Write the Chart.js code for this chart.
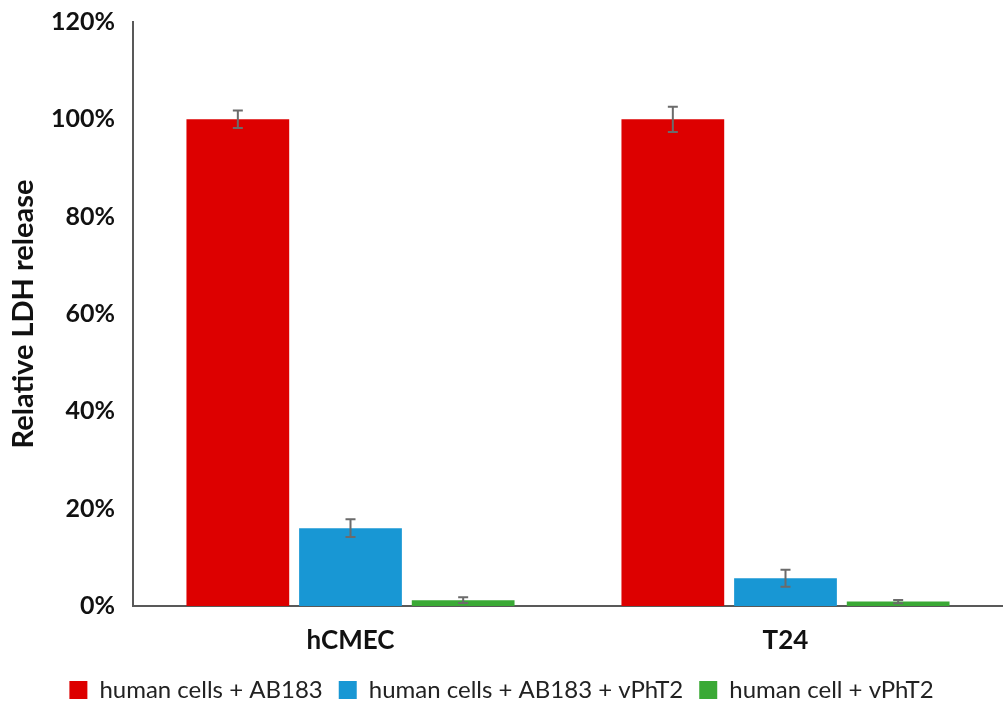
<!DOCTYPE html>
<html lang="en">
<head>
<meta charset="UTF-8">
<title>Relative LDH release</title>
<style>
  html, body { margin: 0; padding: 0; background: #fff; }
  #wrap { width: 1003px; height: 712px; }
</style>
</head>
<body>
<div id="wrap"><canvas id="ldhChart" width="1003" height="712"></canvas></div>

<script src="https://cdn.jsdelivr.net/npm/chart.js"></script>
<script>
  // values (percent)
  const categories = ['hCMEC', 'T24'];
  const seriesNames = ['human cells + AB183', 'human cells + AB183 + vPhT2', 'human cell + vPhT2'];
  const ab183 = [100, 100];
  const ab183Phage = [16.0, 5.7];
  const phageOnly = [1.2, 0.9];
  const ab183Err = [1.8, 2.6];
  const ab183PhageErr = [1.8, 1.75];
  const phageOnlyErr = [0.6, 0.35];
  const yTicks = [0, 20, 40, 60, 80, 100, 120];

  const colors = ['#dd0000', '#1897d4', '#3aa935'];

  // simple error bar drawing on top of the bars
  const errorBars = {
    id: 'errorBars',
    afterDatasetsDraw(chart) {
      const c = chart.ctx;
      const y = chart.scales.y;
      c.save();
      c.strokeStyle = '#6b6b6b';
      c.lineWidth = 2;
      chart.data.datasets.forEach((ds, i) => {
        const meta = chart.getDatasetMeta(i);
        meta.data.forEach((bar, j) => {
          const v = ds.data[j], e = ds.errors[j];
          const top = y.getPixelForValue(v + e);
          const bot = y.getPixelForValue(v - e);
          c.beginPath();
          c.moveTo(bar.x, top); c.lineTo(bar.x, bot);
          c.moveTo(bar.x - 5, top); c.lineTo(bar.x + 5, top);
          c.moveTo(bar.x - 5, bot); c.lineTo(bar.x + 5, bot);
          c.stroke();
        });
      });
      c.restore();
    }
  };

  const ctx = document.getElementById('ldhChart').getContext('2d');
  const chart = new Chart(ctx, {
    type: 'bar',
    data: {
      labels: categories,
      datasets: [
        { label: seriesNames[0], data: ab183, errors: ab183Err, backgroundColor: colors[0] },
        { label: seriesNames[1], data: ab183Phage, errors: ab183PhageErr, backgroundColor: colors[1] },
        { label: seriesNames[2], data: phageOnly, errors: phageOnlyErr, backgroundColor: colors[2] }
      ]
    },
    options: {
      responsive: false,
      animation: false,
      layout: { padding: { top: 22, right: 0, bottom: 0, left: 0 } },
      datasets: {
        bar: { categoryPercentage: 0.777, barPercentage: 0.912 }
      },
      plugins: {
        legend: {
          position: 'bottom',
          labels: {
            boxWidth: 18,
            boxHeight: 18,
            padding: 16,
            color: '#222',
            font: { family: 'Lato', size: 24 }
          }
        },
        tooltip: { enabled: false }
      },
      scales: {
        x: {
          grid: { display: false, drawTicks: false },
          border: { display: true, color: '#595959', width: 2 },
          ticks: {
            padding: 19,
            color: '#111',
            font: { family: 'Lato', size: 26, weight: 'bold' }
          },
          afterFit(s) { s.height = 56; }
        },
        y: {
          min: 0,
          max: 120,
          afterBuildTicks(s) { s.ticks = yTicks.map(v => ({ value: v })); },
          grid: { display: false, drawTicks: false },
          border: { display: true, color: '#595959', width: 2 },
          ticks: {
            padding: 18,
            color: '#111',
            font: { family: 'Lato', size: 25, weight: 'bold' },
            callback: v => v + '%'
          },
          title: {
            display: true,
            text: 'Relative LDH release',
            color: '#111',
            padding: { top: 6, bottom: 0 },
            font: { family: 'Lato', size: 29, weight: 'bold' }
          },
          afterFit(s) {
            s.width = 133;
            s.paddingTop = 0;
          }
        }
      }
    },
    plugins: [errorBars]
  });
</script>
</body>
</html>
